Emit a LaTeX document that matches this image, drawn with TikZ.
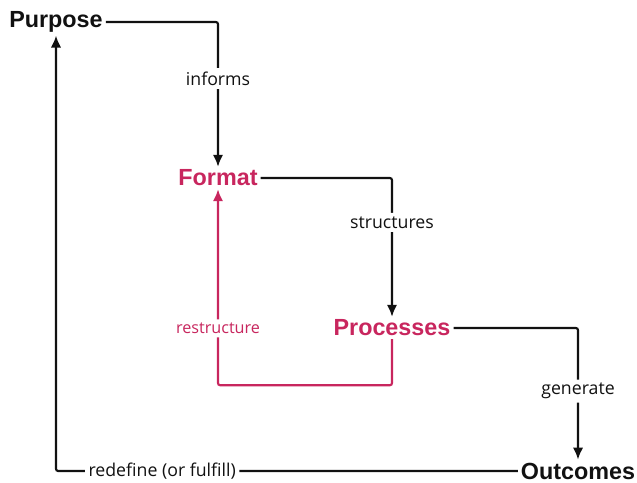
\documentclass[tikz,border=0pt]{standalone}
\usepackage{fontspec}
\setmainfont{Open Sans}
\newfontfamily\headfont{Liberation Sans}
\usetikzlibrary{arrows.meta,positioning}
\definecolor{accent}{RGB}{200,38,94}
\definecolor{ink}{RGB}{17,17,17}
\tikzset{
  stage/.style={font=\headfont\bfseries\fontsize{16.6}{18}\selectfont, text=ink, inner sep=2pt},
  hot/.style={stage, text=accent},
  lbl/.style={font=\fontsize{12.6}{14}\selectfont, fill=white, inner sep=2.5pt, text=ink},
  link/.style={draw=ink, line width=1.5pt, rounded corners=1.5pt, -{Latex[length=3mm,width=2.6mm]}}}

\begin{document}
\begin{tikzpicture}[x=0.025cm, y=-0.025cm]
  \useasboundingbox (0,0) rectangle (637,482);
  \node[stage] (purpose) at (56,22) {Purpose};
  \node[hot] (format) at (218,178) {Format};
  \node[hot] (proc) at (392,328) {Processes};
  \node[stage] (outc) at (578,471) {Outcomes};
  % main cycle
  \draw[link] (purpose.east) -| node[lbl, pos=0.695] {informs} (format.north);
  \draw[link] (format.east) -| node[lbl, pos=0.66] {structures} (proc.north);
  \draw[link] (proc.east) -| node[lbl, pos=0.74] {generate} (outc.north);
  \draw[link] (outc.west) -| node[lbl, pos=0.385] {redefine (or fulfill)} (purpose.south);
  % feedback
  \draw[link, draw=accent] (proc.south) -- ++(0,46) -| node[lbl, text=accent, pos=0.645, font=\fontsize{11.5}{13}\selectfont] {restructure} (format.south);
\end{tikzpicture}
\end{document}
